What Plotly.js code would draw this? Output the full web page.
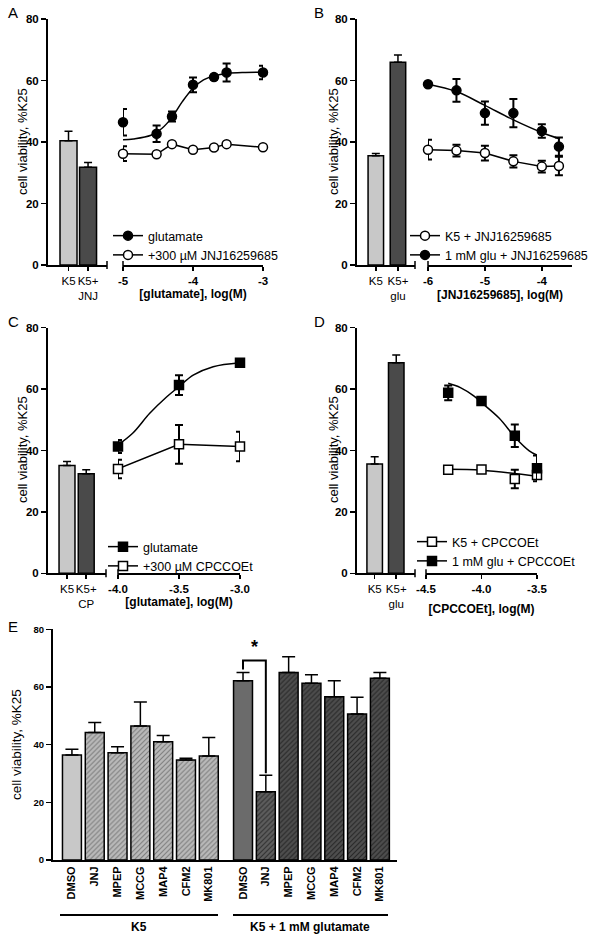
<!DOCTYPE html>
<html><head><meta charset="utf-8">
<script src="https://cdn.plot.ly/plotly-3.0.1.min.js"></script>
<style>html,body{margin:0;padding:0;background:#fff}</style>
</head><body><div id="chart" style="width:600px;height:939px"></div>
<script>
// ---------- DATA ----------
// Panel A
const aBarCats = ['K5', 'K5+<br>JNJ'];
const aBarVals = [40.4, 31.8];
const aBarErrs = [3.1, 1.5];
const aX = [-5, -4.52, -4.3, -4, -3.7, -3.52, -3];
const aGluVals = [46.4, 42.7, 48.3, 58.6, 61.1, 62.6, 62.6];
const aGluErrs = [4.3, 2.7, 1.6, 2.4, 0.8, 2.9, 2.2];
const aJnjVals = [36.2, 36.0, 39.3, 37.5, 38.2, 39.3, 38.3];
const aJnjErrs = [2.4, 0.5, 0.6, 0.5, 0.5, 0.5, 0.5];
const aFitX = [-5, -4.85, -4.6, -4.45, -4.3, -4.15, -4.0, -3.85, -3.7, -3.5, -3.25, -3.0];
const aFitY = [40.7, 41.0, 42.2, 44.3, 48.0, 53.2, 57.5, 60.2, 61.5, 62.3, 62.6, 62.7];
const aTicks = [-5, -4, -3];
// Panel B
const bBarCats = ['K5', 'K5+<br>glu'];
const bBarVals = [35.5, 65.9];
const bBarErrs = [0.8, 2.4];
const bX = [-6, -5.5, -5, -4.5, -4, -3.7];
const bK5Vals = [37.5, 37.2, 36.4, 33.7, 32.0, 32.2];
const bK5Errs = [3.2, 1.9, 2.4, 2.0, 1.9, 3.0];
const bGluVals = [58.8, 56.8, 49.4, 49.4, 43.6, 38.5];
const bGluErrs = [0.5, 3.7, 3.8, 4.6, 2.2, 3.0];
const bFitX = [-6, -5.5, -5, -4.5, -4, -3.68];
const bFitY = [58.8, 56.4, 51.9, 47.2, 43.1, 41.0];
const bTicks = [-6, -5, -4];
// Panel C
const cBarCats = ['K5', 'K5+<br>CP'];
const cBarVals = [35.1, 32.4];
const cBarErrs = [1.3, 1.3];
const cX = [-4, -3.5, -3];
const cGluVals = [41.3, 61.3, 68.6];
const cGluErrs = [2.1, 3.2, 1.0];
const cCpVals = [34.0, 42.0, 41.3];
const cCpErrs = [3.0, 6.3, 4.8];
const cFitX = [-4, -3.88, -3.74, -3.6, -3.5, -3.38, -3.22, -3.0];
const cFitY = [41.8, 45.6, 52.1, 57.5, 60.8, 64.6, 67.3, 68.6];
const cTicks = [-4, -3.5, -3];
// Panel D
const dBarCats = ['K5', 'K5+<br>glu'];
const dBarVals = [35.6, 68.6];
const dBarErrs = [2.4, 2.5];
const dX = [-4.3, -4, -3.7, -3.5];
const dK5Vals = [33.7, 33.8, 30.7, 32.0];
const dK5Errs = [0.5, 0.5, 3.0, 1.3];
const dGluVals = [58.8, 56.1, 44.8, 34.2];
const dGluErrs = [2.4, 0.9, 3.7, 4.2];
const dFitGluX = [-4.3, -4.19, -4.07, -4.0, -3.84, -3.69, -3.57, -3.5];
const dFitGluY = [61.9, 60.5, 57.8, 55.6, 50.5, 44.0, 39.9, 38.5];
const dFitK5X = [-4.3, -4.0, -3.5];
const dFitK5Y = [33.9, 33.6, 31.6];
const dTicks = [-4.5, -4, -3.5];
// Panel E
const eLabels = ['DMSO', 'JNJ', 'MPEP', 'MCCG', 'MAP4', 'CFM2', 'MK801'];
const eK5Vals = [36.4, 44.2, 37.2, 46.5, 41.0, 34.7, 36.1];
const eK5Errs = [2.0, 3.5, 2.1, 8.3, 2.2, 0.6, 6.4];
const eGluVals = [62.2, 23.7, 65.0, 61.3, 56.6, 50.6, 63.0];
const eGluErrs = [2.8, 5.7, 5.5, 2.9, 5.6, 5.8, 2.0];
const yTitle = 'cell viability, %K25';

// ---------- HELPERS ----------
const W = 600, H = 939;
const X = px => px / W, Y = py => 1 - py / H;
const FONT = 'Arial, "Liberation Sans", sans-serif';
const LIGHT = '#c8c8c8', DARK = '#4a4a4a';

function barTrace(xa, ya, cats, vals, errs, w) {
  return {type: 'bar', x: cats, y: vals, xaxis: xa, yaxis: ya, width: w,
    marker: {color: [LIGHT, DARK], line: {color: '#000', width: 1.5}},
    error_y: {type: 'data', array: errs, arrayminus: errs.map(() => 0), symmetric: false,
      color: '#000', thickness: 1.5, width: 4},
    showlegend: false, hoverinfo: 'skip'};
}
function ptsTrace(xa, ya, x, y, err, symbol, fill, withLine, legend, name, showlegend) {
  return {type: 'scatter', x: x, y: y, xaxis: xa, yaxis: ya,
    mode: withLine ? 'lines+markers' : 'markers', cliponaxis: false,
    line: {color: '#000', width: 1.5},
    marker: {symbol: symbol, size: 9, color: fill, line: {color: '#000', width: 1.5}},
    error_y: {type: 'data', array: err, color: '#000', thickness: 2, width: 4},
    legend: legend, name: name, showlegend: showlegend, hoverinfo: 'skip'};
}
function fitTrace(xa, ya, x, y) {
  return {type: 'scatter', x: x, y: y, xaxis: xa, yaxis: ya, mode: 'lines',
    line: {color: '#000', width: 1.5, shape: 'spline'}, cliponaxis: false,
    showlegend: false, hoverinfo: 'skip'};
}
function legendDummy(xa, ya, symbol, fill, legend, name) {
  return {type: 'scatter', x: [null], y: [null], xaxis: xa, yaxis: ya, mode: 'lines+markers',
    line: {color: '#000', width: 1.5},
    marker: {symbol: symbol, size: 9, color: fill, line: {color: '#000', width: 1.5}},
    legend: legend, name: name, showlegend: true};
}

const traces = [
  // A
  barTrace('x', 'y', aBarCats, aBarVals, aBarErrs, 0.87),
  legendDummy('x2', 'y', 'circle', '#000', 'legend', 'glutamate'),
  fitTrace('x2', 'y', aFitX, aFitY),
  ptsTrace('x2', 'y', aX, aGluVals, aGluErrs, 'circle', '#000', false, 'legend', 'glutamate', false),
  ptsTrace('x2', 'y', aX, aJnjVals, aJnjErrs, 'circle', '#fff', true, 'legend', '+300 µM JNJ16259685', true),
  // B
  barTrace('x3', 'y2', bBarCats, bBarVals, bBarErrs, 0.7),
  ptsTrace('x4', 'y2', bX, bK5Vals, bK5Errs, 'circle', '#fff', true, 'legend2', 'K5 + JNJ16259685', true),
  legendDummy('x4', 'y2', 'circle', '#000', 'legend2', '1 mM glu + JNJ16259685'),
  fitTrace('x4', 'y2', bFitX, bFitY),
  ptsTrace('x4', 'y2', bX, bGluVals, bGluErrs, 'circle', '#000', false, 'legend2', '1 mM glu + JNJ16259685', false),
  // C
  barTrace('x5', 'y3', cBarCats, cBarVals, cBarErrs, 0.83),
  legendDummy('x6', 'y3', 'square', '#000', 'legend3', 'glutamate'),
  fitTrace('x6', 'y3', cFitX, cFitY),
  ptsTrace('x6', 'y3', cX, cGluVals, cGluErrs, 'square', '#000', false, 'legend3', 'glutamate', false),
  ptsTrace('x6', 'y3', cX, cCpVals, cCpErrs, 'square', '#fff', true, 'legend3', '+300 µM CPCCOEt', true),
  // D
  barTrace('x7', 'y4', dBarCats, dBarVals, dBarErrs, 0.72),
  legendDummy('x8', 'y4', 'square', '#fff', 'legend4', 'K5 + CPCCOEt'),
  legendDummy('x8', 'y4', 'square', '#000', 'legend4', '1 mM glu + CPCCOEt'),
  fitTrace('x8', 'y4', dFitK5X, dFitK5Y),
  fitTrace('x8', 'y4', dFitGluX, dFitGluY),
  ptsTrace('x8', 'y4', dX, dK5Vals, dK5Errs, 'square', '#fff', false, 'legend4', 'K5 + CPCCOEt', false),
  ptsTrace('x8', 'y4', dX, dGluVals, dGluErrs, 'square', '#000', false, 'legend4', '1 mM glu + CPCCOEt', false)
];

// Panel E bars: split by fill style
const n = eLabels.length;
const eXK5 = eLabels.map((_, i) => i);
const eXGlu = eLabels.map((_, i) => i + n + 0.5);
function eBar(xs, vals, errs, idx, bg, fg, shape) {
  const tr = {type: 'bar', x: idx.map(i => xs[i]), y: idx.map(i => vals[i]), xaxis: 'x9', yaxis: 'y5', width: 0.83,
    marker: {color: bg, line: {color: '#000', width: 1.5}},
    error_y: {type: 'data', array: idx.map(i => errs[i]), arrayminus: idx.map(() => 0), symmetric: false,
      color: '#000', thickness: 1.5, width: 6.5},
    showlegend: false, hoverinfo: 'skip'};
  if (shape) tr.marker.pattern = {shape: shape, fillmode: 'replace', bgcolor: bg, fgcolor: fg, fgopacity: 1, size: 3.5, solidity: 0.3};
  return tr;
}
const allIdx = eLabels.map((_, i) => i);
traces.push(eBar(eXK5, eK5Vals, eK5Errs, [0], LIGHT, null, ''));
traces.push(eBar(eXK5, eK5Vals, eK5Errs, allIdx.slice(1), '#bababa', '#7c7c7c', '/'));
traces.push(eBar(eXGlu, eGluVals, eGluErrs, [0], '#6b6b6b', null, ''));
traces.push(eBar(eXGlu, eGluVals, eGluErrs, [1], '#5e5e5e', '#2e2e2e', '/'));
traces.push(eBar(eXGlu, eGluVals, eGluErrs, allIdx.slice(2), '#4e4e4e', '#262626', '/'));

// ---------- LAYOUT ----------
const axBase = {showline: true, linecolor: '#000', linewidth: 2, ticks: 'outside', tickcolor: '#000',
  tickwidth: 1.5, ticklen: 5, showgrid: false, zeroline: false, fixedrange: true,
  tickfont: {size: 11.5, color: '#000', family: FONT}};
function yAx(top, bottom, anchor) {
  return Object.assign({}, axBase, {domain: [Y(bottom), Y(top)], range: [0, 80], tickvals: [0, 20, 40, 60, 80],
    anchor: anchor, tickfont: {size: 11.5, color: '#000', weight: 'bold', family: FONT}});
}
function barX(l, r, range, anchor) {
  return Object.assign({}, axBase, {domain: [X(l), X(r)], type: 'category', range: range, anchor: anchor,
    ticklen: 4, tickangle: 0});
}
function curveX(l, r, range, tickvals, dec, anchor, title, standoff) {
  return Object.assign({}, axBase, {domain: [X(l), X(r)], range: range, tickvals: tickvals,
    ticktext: tickvals.map(v => v.toFixed(dec)),
    anchor: anchor, ticklen: 4, tickangle: 0, tickfont: {size: 11.5, color: '#000', weight: 'bold', family: FONT},
    title: {text: title, font: {size: 12, color: '#000', weight: 'bold', family: FONT}, standoff: standoff}});
}
function leg(xpx, ypx) {
  return {x: X(xpx), xanchor: 'left', y: Y(ypx), yanchor: 'top', bgcolor: 'rgba(0,0,0,0)',
    font: {size: 12.5, color: '#000', family: FONT}, traceorder: 'normal', itemwidth: 30, tracegroupgap: 0};
}
function letter(t, xpx, ypx) {
  return {text: t, xref: 'paper', yref: 'paper', x: X(xpx), y: Y(ypx), xanchor: 'left', yanchor: 'middle',
    showarrow: false, font: {size: 15, color: '#000', family: FONT}};
}
function yTitleAnn(xpx, ypx, size) {
  return {text: yTitle, xref: 'paper', yref: 'paper', x: X(xpx), y: Y(ypx), xanchor: 'center', yanchor: 'middle',
    textangle: -90, showarrow: false, font: {size: size, color: '#000', family: FONT}};
}
function vtick(xpx, ypx) {
  return {type: 'line', xref: 'paper', yref: 'paper', x0: X(xpx), x1: X(xpx), y0: Y(ypx - 4), y1: Y(ypx + 4),
    line: {color: '#000', width: 1.5}};
}

const bracketLeft = eGluVals[0] + eGluErrs[0] + 1.1;
const bracketTop = bracketLeft + 3.1;
const bracketRight = eGluVals[1] + eGluErrs[1] + 0.7;

const layout = {
  width: W, height: H, margin: {l: 0, r: 0, t: 0, b: 0}, paper_bgcolor: '#fff', plot_bgcolor: 'rgba(0,0,0,0)',
  font: {family: FONT, color: '#000'}, showlegend: true, bargap: 0,
  // A
  yaxis: yAx(19, 265, 'x'),
  xaxis: barX(48, 107, [-1.05, 1.97], 'y'),
  xaxis2: curveX(123, 263, [-5, -3], aTicks, 0, 'y', '[glutamate], log(M)', 2),
  // B
  yaxis2: yAx(19, 265, 'x3'),
  xaxis3: barX(357, 415, [-0.85, 1.77], 'y2'),
  xaxis4: curveX(428, 572, [-6, -3.47], bTicks, 0, 'y2', '[JNJ16259685], log(M)', 5),
  // C
  yaxis3: yAx(327.7, 573.3, 'x5'),
  xaxis5: barX(48, 106, [-0.99, 2.03], 'y3'),
  xaxis6: curveX(118, 240, [-4, -3], cTicks, 1, 'y3', '[glutamate], log(M)', 2),
  // D
  yaxis4: yAx(327.7, 573.3, 'x7'),
  xaxis7: barX(357, 415, [-0.82, 1.87], 'y4'),
  xaxis8: curveX(426, 537, [-4.5, -3.5], dTicks, 1, 'y4', '[CPCCOEt], log(M)', 11),
  // E
  yaxis5: Object.assign(yAx(629.3, 860, 'x9'), {tickfont: {size: 9.5, color: '#000', weight: 'bold', family: FONT}}),
  xaxis9: Object.assign({}, axBase, {domain: [X(53), X(397)], range: [-0.83, 14.25], anchor: 'y5', ticks: '',
    tickvals: eXK5.concat(eXGlu), ticktext: eLabels.concat(eLabels), tickangle: -90,
    tickfont: {size: 11, color: '#000', weight: 'bold', family: FONT}}),
  legend: leg(108, 221),
  legend2: leg(405, 221),
  legend3: leg(103, 532),
  legend4: leg(412, 527),
  annotations: [
    letter('A', 6, 13), letter('B', 312, 13), letter('C', 6, 322), letter('D', 312, 322), letter('E', 6, 626),
    yTitleAnn(22, 142, 13), yTitleAnn(333, 142, 13), yTitleAnn(22, 450, 13), yTitleAnn(333, 450, 13),
    yTitleAnn(16, 745, 13.5),
    {text: 'K5', xref: 'paper', yref: 'paper', x: X(139), y: Y(927), xanchor: 'center', yanchor: 'middle',
      showarrow: false, font: {size: 12, weight: 'bold', family: FONT, color: '#000'}},
    {text: 'K5 + 1 mM glutamate', xref: 'paper', yref: 'paper', x: X(310), y: Y(927), xanchor: 'center', yanchor: 'middle',
      showarrow: false, font: {size: 12, weight: 'bold', family: FONT, color: '#000'}},
    {text: '*', xref: 'x9', yref: 'y5', x: (eXGlu[0] + eXGlu[1]) / 2, y: bracketTop + 0.5, xanchor: 'center', yanchor: 'bottom',
      showarrow: false, font: {size: 18, weight: 'bold', family: FONT, color: '#000'}}
  ],
  shapes: [
    vtick(107, 265), vtick(123, 265), vtick(415, 265), vtick(428, 265),
    vtick(106, 573.3), vtick(118, 573.3), vtick(415, 573.3), vtick(426, 573.3),
    {type: 'line', xref: 'paper', yref: 'paper', x0: X(60), x1: X(218), y0: Y(915), y1: Y(915), line: {color: '#000', width: 2.2}},
    {type: 'line', xref: 'paper', yref: 'paper', x0: X(233), x1: X(388), y0: Y(915), y1: Y(915), line: {color: '#000', width: 2.2}},
    {type: 'path', xref: 'x9', yref: 'y5',
      path: 'M ' + eXGlu[0] + ' ' + bracketLeft + ' L ' + eXGlu[0] + ' ' + bracketTop + ' L ' + eXGlu[1] + ' ' + bracketTop + ' L ' + eXGlu[1] + ' ' + bracketRight,
      line: {color: '#000', width: 2}}
  ]
};

Plotly.newPlot('chart', traces, layout, {staticPlot: true, displayModeBar: false});
</script></body></html>
